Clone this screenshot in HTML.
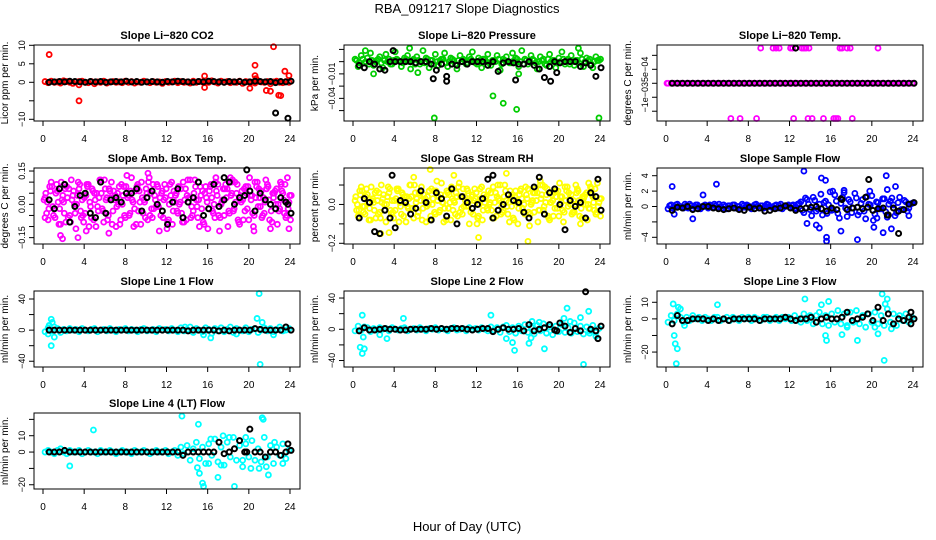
<!DOCTYPE html>
<html><head><meta charset="utf-8"><title>RBA_091217 Slope Diagnostics</title>
<style>
html,body{margin:0;padding:0;background:#fff;}
svg{display:block;font-family:"Liberation Sans",Arial,sans-serif;}
</style></head>
<body>
<svg id="chart" width="936" height="540" viewBox="0 0 936 540" xmlns="http://www.w3.org/2000/svg">
<rect x="0" y="0" width="936" height="540" fill="#fff"/>
<text x="467" y="13" font-size="13" text-anchor="middle">RBA_091217  Slope Diagnostics</text>
<text x="467" y="531" font-size="13" text-anchor="middle">Hour of Day (UTC)</text>
</svg>
<script>
// sampling: colored series A at 0.2h + 0.3h*i, B at 0.35h, C at 0.27h, D at 0.42h (same step); black series at 0.6h + 0.5h*i
const startA = 0.2, stepA = 0.3, startB = 0.35, startC = 0.27, startD = 0.42, startK = 0.6, stepK = 0.5;
const xTicks = [0, 4, 8, 12, 16, 20, 24];

// ---- Li-820 CO2 ----
const co2A = [0.2,-0.1,0.3,0,0.1,-0.2,0.4,0.2,0,-0.3,0.1,0.2,0.3,0,-0.1,0.2,-0.4,0.1,0,0.3,-0.2,0.1,0.2,0,0.1,-0.1,0.3,0,0.2,-0.2,0.1,0,0.3,0.1,-0.1,0.2,0,0.1,-0.3,0.2,0,0.1,0.3,-0.1,0.2,0,0.1,-0.2,0.3,0,0.2,0.1,-0.1,0,0.4,0.1,-0.2,0.3,0,0.2,-0.1,0.1,0,0.3,-0.3,0.2,0.1,0,-0.2,0.3,0.1,0,0.2,-0.4,0.1,0.3,0,-0.1,0.2,0];
const co2Out = [[0.6,7.5],[3.5,-5],[3.5,-0.7],[15.7,1.7],[15.7,-1.4],[20.1,-1.6],[20.6,4.6],[20.6,1.8],[20.7,1],[21.7,-2.2],[22.1,-2.4],[22.4,9.6],[22.9,-3.5],[23.1,-3.6],[23.5,3],[23.9,1.8]];
const co2K = [0,0.1,0.2,0.1,0.3,0.2,0.1,0,0.2,0.1,0.2,0,0.1,0.2,0.1,0.3,0.1,0.2,0,0.1,0.2,0.1,0,0.2,0.1,0.3,0.2,0.1,0,0.2,0.1,0.3,0.2,0.1,0,0.2,0.1,0.2,0,0.1,0.3,0.2,0.1,0.2,-0.1,0.2,0.1,0.3];
const co2KOut = [[22.6,-8.3],[23.8,-9.7]];
const co2Ticks = [10,5,0,-5,-10];
const co2Labels = ["10","5","0","","\u221210"];

// ---- Li-820 Pressure ----
const presA = [0.002,-0.004,0.005,-0.001,0.003,0.007,-0.003,0.001,0.004,-0.005,0.006,0.002,-0.002,0.008,0.001,-0.004,0.003,0.005,-0.006,0.002,0.004,-0.002,0.009,0.003,-0.005,0.001,0.006,-0.003,0.002,0.007,-0.004,0.003,0.001,-0.006,0.005,0.002,-0.002,0.004,0.008,-0.001,0.003,-0.005,0.002,0.006,-0.003,0.001,0.005,-0.007,0.002,0.004,-0.001,0.007,0.003,-0.004,0.009,0.002,-0.002,0.005,0.001,-0.006,0.004,0.002,-0.003,0.006,0.001,-0.005,0.003,0.008,-0.002,0.002,0.005,-0.003,0.001,0.007,-0.004,0.003,0.002,-0.005,0.004,0.001];
const presB = [0.001,-0.001,0.002,0,-0.002,0.001,0,0.002,-0.001,0.001,0,-0.002,0.001,0.002,0,-0.001,0.002,0,0.001,-0.002,0.001,0,-0.001,0.002,0.001,-0.002,0,0.001,0.002,-0.001,0,0.002,-0.002,0.001,0,0.001,-0.001,0.002,0,-0.002,0.001,0.002,0,-0.001,0.001,0,0.002,-0.002,0.001,0,-0.001,0.001,0.002,0,-0.002,0.001,0,0.002,-0.001,0,0.001,-0.002,0.002,0,0.001,-0.001,0,0.002,0.001,-0.002,0,0.001,-0.001,0.002,0,0.001,-0.002,0,0.001,0.002];
const presOut = [[7.9,-0.046],[13.6,-0.028],[14.6,-0.034],[15.9,-0.039],[23.9,-0.046],[5.5,0.011],[21.9,0.011],[1.2,0.009],[6.3,-0.009],[2.0,-0.010],[16.1,-0.010]];
const presK = [-0.003,-0.005,0,-0.002,-0.006,-0.007,0,0,0,0,0,-0.001,0,0,-0.002,-0.007,-0.002,-0.012,-0.002,-0.003,0,-0.002,0,0,0,-0.003,0,-0.008,-0.001,0,-0.001,-0.002,-0.002,0,-0.003,-0.006,-0.013,-0.004,0,-0.001,0,0,0,-0.004,-0.001,-0.003,-0.012,-0.005];
const presKOut = [[3.9,0.009],[7.8,-0.014],[9.1,-0.016],[15.8,-0.015],[19.2,-0.016],[19.8,-0.009]];
const presTicks = [0.01,0,-0.01,-0.02,-0.03,-0.04];
const presLabels = ["","","\u22120.01","","\u22120.04",""];

// ---- Li-820 Temp ----
const tempA = [0,0,0,0,0,0,0,0,0,0,0,0,0,0,0,0,0,0,0,0,0,0,0,0,0,0,0,0,0,0,0,0,0,0,0,0,0,0,0,0,0,0,0,0,0,0,0,0,0,0,0,0,0,0,0,0,0,0,0,0,0,0,0,0,0,0,0,0,0,0,0,0,0,0,0,0,0,0,0,0];
const tempOut = [[9.2,0.00126],[10.4,0.00126],[10.7,0.00126],[11,0.00126],[12.1,0.00126],[12.3,0.00126],[13.2,0.00126],[13.4,0.00126],[13.6,0.00126],[13.9,0.00126],[16.9,0.00126],[17.1,0.00126],[17.6,0.00126],[17.9,0.00126],[20.6,0.00126],[6.3,-0.00126],[7.2,-0.00126],[8.8,-0.00126],[12.4,-0.00126],[13.8,-0.00126],[14.2,-0.00126],[15.3,-0.00126],[16.3,-0.00126],[16.5,-0.00126],[16.7,-0.00126],[18.1,-0.00126],[0.1,0],[12.2,0],[12.5,0]];
const tempK = [0,0,0,0,0,0,0,0,0,0,0,0,0,0,0,0,0,0,0,0,0,0,0,0,0,0,0,0,0,0,0,0,0,0,0,0,0,0,0,0,0,0,0,0,0,0,0,0];
const tempKOut = [[12.6,0.00126]];
const tempTicks = [0.001,0.0005,0,-0.0005,-0.001];
const tempLabels = ["","5e\u221204","","\u22121e\u221203",""];

// ---- Amb. Box Temp ----
const ambA = [0.03,-0.07,0.10,-0.02,0.06,-0.09,0.01,0.08,-0.05,0.04,-0.11,0.07,0.02,-0.04,0.09,-0.06,0.05,-0.01,0.11,-0.08,0.03,0.06,-0.03,-0.10,0.08,0.00,-0.06,0.04,0.12,-0.02,0.07,-0.09,0.02,0.05,-0.05,0.09,-0.01,-0.12,0.06,0.03,-0.07,0.10,0.01,-0.04,0.07,-0.08,0.04,0.11,-0.03,0.02,-0.10,0.06,0.08,-0.02,0.03,-0.06,0.09,0.00,-0.05,0.07,0.12,-0.03,0.05,-0.09,0.02,0.08,-0.07,0.04,0.10,-0.01,0.06,-0.04,0.09,-0.11,0.03,0.07,-0.02,0.05,-0.06,0.01];
const ambB = [-0.04,0.08,-0.01,0.05,-0.09,0.02,0.07,-0.06,0.11,0.00,0.04,-0.03,-0.08,0.09,0.01,0.06,-0.10,0.03,-0.02,0.07,-0.05,0.10,0.02,0.05,-0.07,0.08,0.13,-0.04,0.01,-0.09,0.06,0.03,-0.06,0.10,-0.02,0.04,0.08,-0.05,0.02,-0.11,0.09,-0.03,0.05,0.00,-0.08,0.07,0.03,-0.01,0.11,-0.06,0.04,-0.09,0.01,0.08,-0.04,0.06,-0.12,0.02,0.09,-0.03,0.05,0.10,-0.07,0.01,0.07,-0.02,0.04,-0.10,0.08,0.03,-0.05,0.11,0.02,-0.08,0.06,0.00,0.09,-0.04,0.12,-0.07];
const ambC = [0.05,-0.02,0.08,-0.06,0.01,0.10,-0.04,0.03,-0.08,0.06,0.00,0.09,-0.05,0.04,-0.10,0.07,0.02,-0.03,0.05,0.11,-0.07,0.03,0.06,-0.01,-0.09,0.04,0.08,-0.05,0.02,0.06,-0.03,0.10,0.01,-0.07,0.05,-0.02,0.09,0.03,-0.06,0.07,0.00,-0.09,0.04,0.08,-0.04,0.02,0.11,-0.06,0.05,-0.01,0.08,-0.08,0.03,0.06,-0.03,0.10,-0.05,0.01,0.07,-0.10,0.04,-0.02,0.09,0.02,-0.07,0.05,0.12,-0.04,0.03,0.07,-0.06,0.01,0.08,-0.03,0.05,-0.09,0.10,0.02,-0.05,0.04];
const ambD = [0.01,0.06,-0.05,0.09,-0.02,0.04,-0.08,0.07,0.02,-0.04,0.10,-0.06,0.03,0.08,-0.01,-0.07,0.05,0.11,-0.03,0.02,0.07,-0.09,0.04,0.00,0.09,-0.05,0.03,0.06,-0.10,0.08,0.01,-0.04,0.07,0.12,-0.06,0.02,-0.01,0.05,0.09,-0.08,0.04,0.06,-0.03,0.01,0.10,-0.07,0.03,-0.05,0.08,0.02,-0.02,0.05,-0.11,0.09,0.00,0.04,-0.06,0.07,0.03,-0.04,0.11,0.01,-0.08,0.06,-0.03,0.08,0.02,-0.05,0.10,-0.01,0.03,0.07,-0.07,0.05,0.00,-0.03,0.06,0.09,-0.02,0.04];
const ambOut = [[1.7,-0.14],[1.9,-0.155],[3.4,-0.15],[10.2,0.14],[6.4,-0.13],[18.3,0.10],[23.9,-0.11],[16.8,0.12],[20.5,-0.12],[4.2,-0.12],[9.2,0.09],[0.2,-0.06],[0.1,0.02]];
const ambK = [0.02,-0.02,0.07,0.09,-0.08,-0.01,0.04,0.05,-0.04,-0.06,0.10,-0.04,0.02,0.03,0.01,0.05,0.05,0.07,-0.03,0.03,0.06,0.00,-0.03,-0.09,0.01,0.07,-0.06,0.01,0.03,0.10,-0.05,-0.02,0.09,-0.01,0.02,0.10,0.00,0.03,0.04,0.06,-0.03,0.05,0.02,0.00,-0.02,0.03,0.01,-0.04];
const ambKOut = [[19.8,0.155],[17.6,0.12],[23.8,0.0]];
const ambTicks = [0.15,0.10,0.05,0,-0.05,-0.10,-0.15];
const ambLabels = ["0.15","","","0.00","","","\u22120.15"];

// ---- Gas Stream RH ----
const rhA = [0.02,-0.06,0.09,-0.01,0.05,-0.08,0.01,0.07,-0.04,0.03,-0.09,0.06,0.02,-0.03,0.08,-0.05,0.04,-0.01,0.10,-0.07,0.03,0.05,-0.02,-0.09,0.07,0.00,-0.05,0.04,0.11,-0.02,0.06,-0.08,0.02,0.04,-0.04,0.08,-0.01,-0.10,0.05,0.03,-0.06,0.09,0.01,-0.03,0.06,-0.07,0.04,0.10,-0.03,0.02,-0.09,0.05,0.07,-0.02,0.03,-0.05,0.08,0.00,-0.04,0.06,0.10,-0.03,0.05,-0.08,0.02,0.07,-0.06,0.04,0.09,-0.01,0.05,-0.04,0.08,-0.10,0.03,0.06,-0.02,0.04,-0.05,0.01];
const rhB = [-0.03,0.07,-0.01,0.04,-0.08,0.02,0.06,-0.05,0.10,0.00,0.04,-0.03,-0.07,0.08,0.01,0.05,-0.09,0.03,-0.02,0.06,-0.04,0.09,0.02,0.04,-0.06,0.07,0.12,-0.03,0.01,-0.08,0.05,0.03,-0.05,0.09,-0.02,0.04,0.07,-0.04,0.02,-0.10,0.08,-0.03,0.04,0.00,-0.07,0.06,0.03,-0.01,0.10,-0.05,0.04,-0.08,0.01,0.07,-0.04,0.05,-0.11,0.02,0.08,-0.03,0.05,0.09,-0.06,0.01,0.06,-0.02,0.04,-0.09,0.07,0.03,-0.04,0.10,0.02,-0.07,0.05,0.00,0.08,-0.03,0.11,-0.06];
const rhC = [0.04,-0.03,0.07,-0.05,0.01,0.09,-0.03,0.02,-0.07,0.05,0.00,0.08,-0.04,0.03,-0.09,0.06,0.02,-0.02,0.04,0.10,-0.06,0.02,0.05,-0.01,-0.08,0.03,0.07,-0.04,0.01,0.05,-0.02,0.09,0.01,-0.06,0.04,-0.01,0.08,0.02,-0.05,0.06,0.00,-0.08,0.03,0.07,-0.03,0.01,0.10,-0.05,0.04,-0.01,0.07,-0.07,0.02,0.05,-0.02,0.09,-0.04,0.01,0.06,-0.09,0.03,-0.01,0.08,0.01,-0.06,0.04,0.11,-0.03,0.02,0.06,-0.05,0.00,0.07,-0.02,0.04,-0.08,0.09,0.01,-0.04,0.03];
const rhD = [0.00,0.05,-0.04,0.08,-0.02,0.03,-0.07,0.06,0.01,-0.03,0.09,-0.05,0.02,0.07,-0.01,-0.06,0.04,0.10,-0.02,0.01,0.06,-0.08,0.03,0.00,0.08,-0.04,0.02,0.05,-0.09,0.07,0.01,-0.03,0.06,0.11,-0.05,0.02,-0.01,0.04,0.08,-0.07,0.03,0.05,-0.02,0.01,0.09,-0.06,0.02,-0.04,0.07,0.01,-0.01,0.04,-0.10,0.08,0.00,0.03,-0.05,0.06,0.02,-0.03,0.10,0.01,-0.07,0.05,-0.02,0.07,0.01,-0.04,0.09,0.00,0.02,0.06,-0.06,0.04,0.00,-0.02,0.05,0.08,-0.01,0.03];
const rhOut = [[7.5,0.18],[14.9,0.16],[12.2,-0.17],[17,-0.19],[2.7,-0.15],[3.5,-0.145],[5.9,0.14],[9.8,0.15],[18.2,0.12],[22.9,0.11]];
const rhK = [-0.07,0.03,0.01,-0.14,-0.15,-0.03,-0.07,-0.12,0.02,0.01,-0.05,-0.02,0.07,0.01,-0.08,0.06,0.03,-0.06,0.08,-0.1,0.04,0.01,-0.02,0,0.03,0.13,-0.07,-0.03,0,0.05,0.02,0.01,-0.04,-0.07,0.09,0.14,-0.05,0.06,0.08,0,-0.13,0.02,-0.01,0.01,-0.07,0.06,0.04,-0.03];
const rhKOut = [[3.8,0.15],[13.6,0.15],[23.8,0.13]];
const rhTicks = [0.1,0,-0.1,-0.2];
const rhLabels = ["","0.0","","\u22120.2"];

// ---- Sample Flow ----
const sampA = [-0.3,0.2,-0.1,0.3,0,-0.2,0.1,0.3,-0.3,0.2,0,-0.1,0.2,-0.2,0.1,0.3,-0.1,0,0.2,-0.3,0.1,0.2,-0.2,0,0.3,-0.1,0.1,-0.3,0.2,0,0.1,-0.2,0.3,0,-0.1,0.2,0.1,-0.3,0,0.2,0.1,-0.2,0.3,0.6,-0.8,0.9,-0.4,1.2,-0.6,0.3,-1.1,0.7,0.2,-0.5,1.5,-0.9,0.4,1.8,-1.3,0.6,-0.2,1.1,-0.7,0.9,-1.6,0.3,1.4,-1.0,0.5,-0.3,1.0,-1.4,0.7,0.2,-0.8,1.2,-0.4,0.6,-0.2,0.4];
const sampB = [0.1,-0.2,0.2,0,-0.1,0.3,-0.2,0.1,0,0.2,-0.3,0.1,0,0.2,-0.1,0.1,0.3,-0.2,0,0.1,-0.1,0.2,0,-0.3,0.1,0.2,-0.1,0,0.3,-0.2,0.1,0,0.2,-0.1,0.1,-0.2,0.3,0,0.1,-0.1,0.2,-0.3,0.4,-0.5,1.1,0.3,-1.2,0.8,-0.3,1.6,0.5,-0.9,1.9,-0.4,0.7,-1.5,1.2,-0.2,0.9,-0.8,1.7,-1.1,0.4,-0.6,1.3,0.2,-1.8,0.6,-0.3,1.0,-0.7,0.3,1.1,-1.2,0.5,-0.4,0.8,-0.6,0.3,0.5];
const sampOut = [[0.6,2.6],[0.8,-1.0],[2.6,-1.6],[3.6,1.5],[4.9,2.9],[13.4,4.6],[13.7,-2.2],[14.6,-2.4],[14.9,-2.8],[15.1,3.7],[15.5,3.4],[15.6,-4.0],[15.6,-4.5],[17,-3.2],[18.6,-4.3],[20.2,-2.7],[21.1,-3.4],[21.4,4.0],[21.5,2.2],[21.9,-2.9],[22.3,2.6],[23.6,-1.2],[16.2,2.0],[17.3,2.1],[19.8,2.0],[20.5,-1.5]];
const sampK = [-0.5,-0.1,-0.2,0,-0.4,-0.3,0,0,-0.2,-0.3,-0.4,-0.3,-0.2,-0.4,-0.5,-0.1,-0.3,-0.2,-0.6,-0.5,-0.3,-0.2,0.1,-0.2,-0.5,-0.3,-0.2,-0.1,0,-0.3,-0.6,-0.2,-0.4,0.9,-0.4,-0.2,-0.1,-0.3,-0.1,-0.5,-0.3,-0.2,-1.1,-0.2,-0.6,-0.4,0.3,0.5];
const sampKOut = [[19.7,3.5],[22.6,-3.5],[19.4,1.2],[17,1.0],[21.5,-1.1]];
const sampTicks = [4,2,0,-2,-4];
const sampLabels = ["4","2","0","","\u22124"];

// ---- Line 1 Flow ----
const l1A = [-2,3,-1,4,2,-3,1,-1,2,0,1,-2,2,0,-1,1,2,-2,0,1,-1,2,0,-2,1,0,2,-1,1,0,-2,1,2,-1,0,1,-2,2,0,1,-1,2,0,-2,3,-1,1,4,-3,2,0,-2,3,1,-4,2,-1,3,-2,1,4,-3,2,0,-1,3,-2,1,2,-3,0,3,-1,2,-2,1,4,-1,0,2];
const l1Out = [[0.8,-20],[0.8,14],[0.9,10],[1.1,-9],[21,47],[21.1,-44],[20.8,15],[21.3,10],[16.3,-10],[0.5,-5],[0.6,6],[13.8,4],[15.6,-6],[18.8,-5],[22.4,-6]];
const l1K = [0,0,0,0,0,0,0,0,0,0,0,0,0,0,0,0,0,0,0,0,0,0,0,0,0,0,0,-1,0,0,0,0,0,-1,0,-1,0,0,0,0,2,1,0,0,0,0,4,0];
const l1KOut = [];
const l1Ticks = [40,20,0,-20,-40];
const l1Labels = ["40","","0","","\u221240"];

// ---- Line 2 Flow ----
const l2A = [-2,4,-1,3,2,-3,1,-1,2,0,1,-2,2,0,-1,1,2,-2,0,1,-1,2,0,-2,1,0,2,-1,1,0,-2,1,2,-1,0,1,-2,2,0,1,-1,2,0,-2,3,-1,2,-4,3,5,-3,2,-5,4,-2,6,-4,3,-6,5,-2,7,-5,3,-7,4,-3,6,-4,2,-5,8,-3,4,-6,3,-2,5,-4,1];
const l2Out = [[0.9,18],[0.7,-23],[1.1,-25],[0.9,-31],[1.0,-10],[2.6,-7],[3.3,-12],[4.9,14],[13.4,18],[14.9,-12],[15.5,-17],[15.7,-27],[17.1,-18],[17.3,-11],[17.4,10],[18.1,9],[18.6,-25],[20.5,14],[20.8,27],[21.1,10],[22.1,15],[22.4,-45],[22.9,23],[23.0,-5],[23.6,-9]];
const l2K = [-2,2,-1,-1,0,1,0,0,-1,-1,0,0,0,0,1,0,1,0,1,1,1,0,-1,0,1,1,-3,0,2,0,0,1,-2,6,-2,0,2,6,-1,8,4,-4,1,-2,48,0,-2,4];
const l2KOut = [[23.8,-12],[19.8,-2]];
const l2Ticks = [40,20,0,-20,-40];
const l2Labels = ["40","","0","","\u221240"];

// ---- Line 3 Flow ----
const l3A = [-2,2,-1,3,1,-2,1,-1,2,0,1,-1,1,0,-1,1,1,-1,0,1,-1,1,0,-1,1,0,1,-1,1,0,-1,1,1,-1,0,1,-1,1,0,1,-1,2,0,-2,3,-1,2,-3,2,4,-3,2,-4,3,-2,5,-3,3,-4,4,-2,5,-3,2,-5,3,-2,4,-3,2,-4,6,-2,3,-4,2,-1,3,-2,1];
const l3Out = [[0.7,9],[0.8,-10],[0.9,-15],[1.0,-27],[1.1,-18],[1.2,7],[1.4,6],[1.8,-4],[5.0,8.5],[13.5,12],[15.1,8.5],[15.5,-10],[15.6,-13],[15.8,10.5],[17.1,-9.5],[17.6,-5],[18.6,-13],[20.6,-9],[21.0,15],[21.2,-25],[21.3,9],[21.5,12],[21.9,-6],[20.3,-5]];
const l3K = [-3,2,-1,-1,0,0,0,-1,0,-1,0,-1,0,0,0,0,0,-1,0,0,0,0,1,0,-1,0,0,1,-2,0,1,0,0,1,4,-1,0,1,3,-1,7,-1,3,-3,0,-1,1,0];
const l3KOut = [[23.8,4],[23.8,-3]];
const l3Ticks = [10,0,-10,-20];
const l3Labels = ["10","0","","\u221220"];

// ---- Line 4 (LT) Flow ----
const l4A = [0,1,0,-1,1,2,0,-1,1,0,0,1,-1,0,1,0,0,-1,1,0,0,1,0,-1,0,1,0,0,-1,1,0,0,1,0,-1,0,1,0,0,1,-1,0,1,-2,3,-1,4,-5,2,6,-4,3,-7,5,-2,8,-6,3,-8,6,-3,9,-5,4,-9,5,-3,7,-5,2,-6,9,-3,4,-7,3,-2,5,-4,1];
const l4Out = [[2.6,-8.5],[4.9,13.5],[13.5,22],[15.1,17],[15,-9.5],[15.2,-13],[15.5,-19],[15.6,-21],[16.1,-7],[16.3,8],[17,-15.5],[17.3,-8],[17.5,10],[18.1,9],[18.6,-21],[19.4,-5],[19.7,9],[20.2,-10],[21.0,-10],[21.3,21],[21.4,20],[21.7,-9],[21.9,-14],[22.5,6],[23.3,-7]];
const l4K = [0,0,0,1,0,0,0,0,0,0,0,0,0,0,0,0,0,0,0,0,0,0,0,0,0,0,-2,0,0,0,0,0,0,6,-1,0,2,7,0,14,0,0,-3,0,0,-2,0,1];
const l4KOut = [[23.8,5],[19.8,0]];
const l4Ticks = [20,10,0,-10,-20];
const l4Labels = ["","10","0","","\u221220"];

const NS = "http://www.w3.org/2000/svg";
const svg = document.getElementById("chart");
const colLeft = [34, 344, 657];
const rowTop = [45, 168, 291, 413];
const boxW = 266, boxH = 76;

const panels = [
 {title:"Slope Li\u2212820 CO2", ylab:"Licor ppm per min.", col:0,row:0, lo:-10.46, hi:10.08, color:"#ff0000", A:co2A, B:[], C:[], D:[], out:co2Out, K:co2K, kout:co2KOut, ticks:co2Ticks, labels:co2Labels, key:"co2"},
 {title:"Slope Li\u2212820 Pressure", ylab:"kPa per min.", col:1,row:0, lo:-0.0485, hi:0.0136, color:"#00cd00", A:presA, B:presB, C:[], D:[], out:presOut, K:presK, kout:presKOut, ticks:presTicks, labels:presLabels, key:"pressure"},
 {title:"Slope Li\u2212820 Temp.", ylab:"degrees C per min.", col:2,row:0, lo:-0.00135, hi:0.00137, color:"#ff00ff", A:tempA, B:[], C:[], D:[], out:tempOut, K:tempK, kout:tempKOut, ticks:tempTicks, labels:tempLabels, key:"li820-temp"},
 {title:"Slope Amb. Box Temp.", ylab:"degrees C per min.", col:0,row:1, lo:-0.1786, hi:0.1636, color:"#ff00ff", A:ambA, B:ambB, C:ambC, D:ambD, out:ambOut, K:ambK, kout:ambKOut, ticks:ambTicks, labels:ambLabels, key:"amb-temp"},
 {title:"Slope Gas Stream RH", ylab:"percent per min.", col:1,row:1, lo:-0.2036, hi:0.1876, color:"#ffff00", A:rhA, B:rhB, C:rhC, D:rhD, out:rhOut, K:rhK, kout:rhKOut, ticks:rhTicks, labels:rhLabels, key:"rh"},
 {title:"Slope Sample Flow", ylab:"ml/min per min.", col:2,row:1, lo:-4.87, hi:5.0, color:"#0000ff", A:sampA, B:sampB, C:[], D:[], out:sampOut, K:sampK, kout:sampKOut, ticks:sampTicks, labels:sampLabels, key:"sample-flow"},
 {title:"Slope Line 1 Flow", ylab:"ml/min per min.", col:0,row:2, lo:-47.4, hi:50.3, color:"#00ffff", A:l1A, B:[], C:[], D:[], out:l1Out, K:l1K, kout:l1KOut, ticks:l1Ticks, labels:l1Labels, key:"line1-flow"},
 {title:"Slope Line 2 Flow", ylab:"ml/min per min.", col:1,row:2, lo:-48.3, hi:49, color:"#00ffff", A:l2A, B:[], C:[], D:[], out:l2Out, K:l2K, kout:l2KOut, ticks:l2Ticks, labels:l2Labels, key:"line2-flow"},
 {title:"Slope Line 3 Flow", ylab:"ml/min per min.", col:2,row:2, lo:-29, hi:16.8, color:"#00ffff", A:l3A, B:[], C:[], D:[], out:l3Out, K:l3K, kout:l3KOut, ticks:l3Ticks, labels:l3Labels, key:"line3-flow"},
 {title:"Slope Line 4 (LT) Flow", ylab:"ml/min per min.", col:0,row:3, lo:-22.6, hi:23.9, color:"#00ffff", A:l4A, B:[], C:[], D:[], out:l4Out, K:l4K, kout:l4KOut, ticks:l4Ticks, labels:l4Labels, key:"line4-flow"}
];

function mk(tag, attrs, parent){
  const e = document.createElementNS(NS, tag);
  for (const k in attrs) e.setAttribute(k, attrs[k]);
  (parent || svg).appendChild(e);
  return e;
}

function dot(g, cx, cy, color, sw, name){
  if (!isFinite(cy)) return;
  const c = mk("circle", {cx:cx.toFixed(2), cy:cy.toFixed(2), r:2.5, fill:"none", stroke:color, "stroke-width":sw}, g);
  
  
}

panels.forEach(p => {
  const left = colLeft[p.col], top = rowTop[p.row];
  const g = mk("g", {});
  
  
  const x0 = left + 9, xs = (boxW - 19) / 24;
  const xf = t => x0 + t * xs;
  const yf = v => top + (p.hi - v) / (p.hi - p.lo) * boxH;

  const t = mk("text", {x:left + boxW/2, y:top - 6, "font-size":11, "font-weight":"bold", "text-anchor":"middle"}, g);
  t.textContent = p.title;
  
  

  const yl = mk("text", {x:0, y:0, "font-size":10, "text-anchor":"middle", transform:`translate(${left-26},${top+boxH/2}) rotate(-90)`}, g);
  yl.textContent = p.ylab;
  
  

  const xa = mk("line", {x1:xf(0), x2:xf(24), y1:top+boxH, y2:top+boxH, stroke:"#000"}, g);
  
  
  xTicks.forEach(v => {
    const tk = mk("line", {x1:xf(v), x2:xf(v), y1:top+boxH, y2:top+boxH+5, stroke:"#000"}, g);
    
    
    const tl = mk("text", {x:xf(v), y:top+boxH+21, "font-size":10, "text-anchor":"middle"}, g);
    tl.textContent = String(v);
    
    
  });
  p.ticks.forEach((v, i) => {
    const yy = yf(v);
    const tk = mk("line", {x1:left-5, x2:left, y1:yy, y2:yy, stroke:"#000"}, g);
    
    
    if (p.labels[i]) {
      const tl = mk("text", {x:0, y:0, "font-size":9, "text-anchor":"middle", transform:`translate(${left-9},${yy}) rotate(-90)`}, g);
      tl.textContent = p.labels[i];
      
      
    }
  });

  p.A.forEach((v, i) => dot(g, xf(startA + i*stepA), yf(v), p.color, 1.8, p.key + '-point'));
  p.B.forEach((v, i) => dot(g, xf(startB + i*stepA), yf(v), p.color, 1.8, p.key + '-point'));
  p.C.forEach((v, i) => dot(g, xf(startC + i*stepA), yf(v), p.color, 1.8, p.key + '-point'));
  p.D.forEach((v, i) => dot(g, xf(startD + i*stepA), yf(v), p.color, 1.8, p.key + '-point'));
  p.out.forEach(d => dot(g, xf(d[0]), yf(d[1]), p.color, 1.8, p.key + '-outlier-point'));
  p.K.forEach((v, i) => dot(g, xf(startK + i*stepK), yf(v), "#000", 2, p.key + '-hourly-point'));
  p.kout.forEach(d => dot(g, xf(d[0]), yf(d[1]), "#000", 2, p.key + '-hourly-outlier'));

  const box = mk("rect", {x:left, y:top, width:boxW, height:boxH, fill:"none", stroke:"#000", "stroke-width":1}, g);
  
  
});
</script>
</body></html>
